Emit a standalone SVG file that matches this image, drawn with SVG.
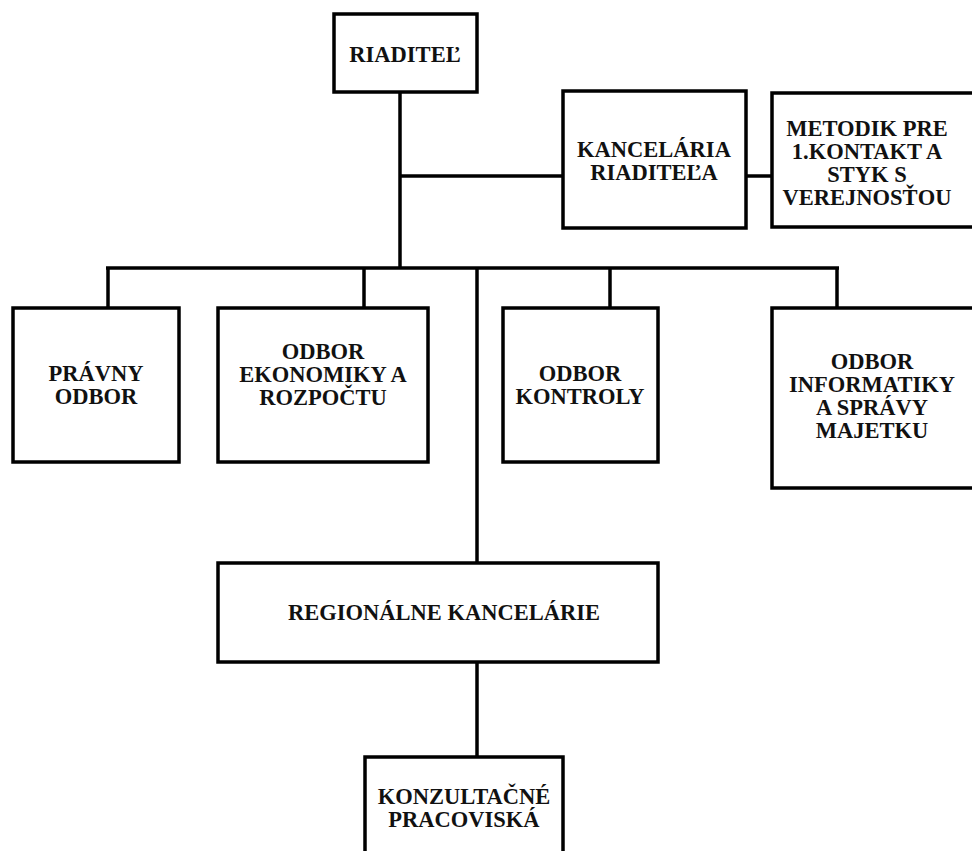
<svg xmlns="http://www.w3.org/2000/svg" width="972" height="851" viewBox="0 0 972 851">
<style>
.box{fill:#fff;stroke:#000;stroke-width:3.5}
.ln{stroke:#000;stroke-width:3.5;fill:none}
text{font-family:"Liberation Serif","Times New Roman",serif;font-weight:bold;font-size:22.5px;fill:#111;text-anchor:middle}
</style>
<rect width="972" height="851" fill="#fff"/>
<g id="connectors">
<line class="ln" x1="400" y1="92" x2="400" y2="268"/>
<line class="ln" x1="400" y1="176" x2="563" y2="176"/>
<line class="ln" x1="746" y1="176" x2="772" y2="176"/>
<line class="ln" x1="106" y1="268" x2="839" y2="268"/>
<line class="ln" x1="108" y1="268" x2="108" y2="308"/>
<line class="ln" x1="364" y1="268" x2="364" y2="308"/>
<line class="ln" x1="610" y1="268" x2="610" y2="308"/>
<line class="ln" x1="837" y1="268" x2="837" y2="308"/>
<line class="ln" x1="477" y1="268" x2="477" y2="563"/>
<line class="ln" x1="477" y1="662" x2="477" y2="757"/>
</g>
<g id="riaditel">
<rect class="box" x="334" y="14" width="143" height="78"/>
<text x="405" y="62">RIADITEĽ</text>
</g>
<g id="kancelaria">
<rect class="box" x="563" y="91" width="183" height="137"/>
<text x="654" y="157">KANCELÁRIA</text>
<text x="654" y="180">RIADITEĽA</text>
</g>
<g id="metodik">
<rect class="box" x="772" y="93" width="220" height="134"/>
<text x="867" y="136">METODIK PRE</text>
<text x="867" y="159">1.KONTAKT A</text>
<text x="867" y="182">STYK S</text>
<text x="867" y="205">VEREJNOSŤOU</text>
</g>
<g id="pravny">
<rect class="box" x="13" y="308" width="166" height="154"/>
<text x="96" y="381">PRÁVNY</text>
<text x="96" y="404">ODBOR</text>
</g>
<g id="ekonomika">
<rect class="box" x="218" y="308" width="210" height="154"/>
<text x="323" y="359">ODBOR</text>
<text x="323" y="382">EKONOMIKY A</text>
<text x="323" y="405">ROZPOČTU</text>
</g>
<g id="kontrola">
<rect class="box" x="503" y="308" width="155" height="154"/>
<text x="580" y="381">ODBOR</text>
<text x="580" y="404">KONTROLY</text>
</g>
<g id="informatika">
<rect class="box" x="772" y="308" width="220" height="180"/>
<text x="872" y="369">ODBOR</text>
<text x="872" y="392">INFORMATIKY</text>
<text x="872" y="415">A SPRÁVY</text>
<text x="872" y="438">MAJETKU</text>
</g>
<g id="regionalne">
<rect class="box" x="218" y="563" width="440" height="99"/>
<text x="444" y="620">REGIONÁLNE KANCELÁRIE</text>
</g>
<g id="konzultacne">
<rect class="box" x="365" y="757" width="198" height="120"/>
<text x="464" y="804">KONZULTAČNÉ</text>
<text x="464" y="827">PRACOVISKÁ</text>
</g>
</svg>
